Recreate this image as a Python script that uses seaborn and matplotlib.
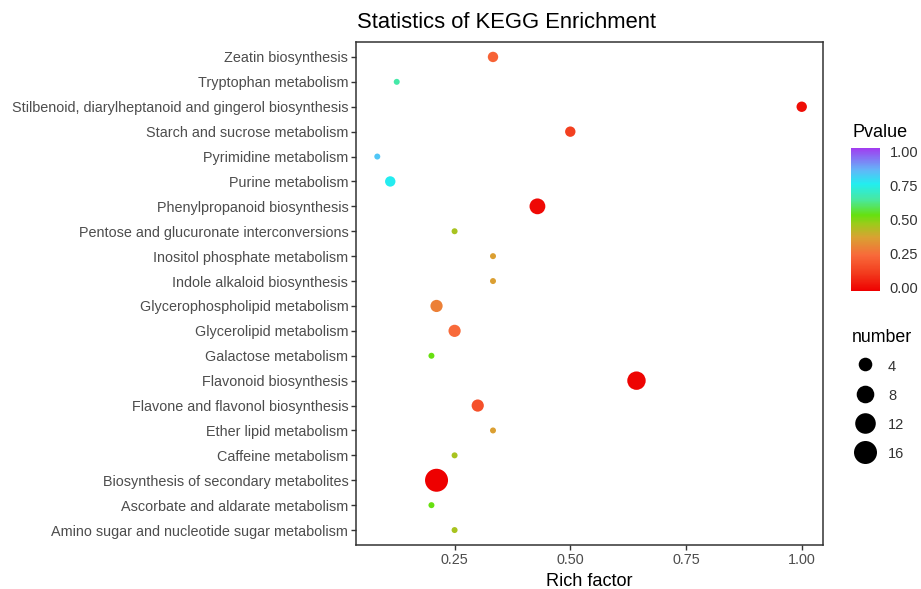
import numpy as np
import pandas as pd
import matplotlib
matplotlib.use("Agg")
import matplotlib.pyplot as plt
import seaborn as sns
from matplotlib.colors import LinearSegmentedColormap, Normalize
from matplotlib.cm import ScalarMappable
from matplotlib.lines import Line2D

# ---------------- data ----------------
pathways = [
    "Zeatin biosynthesis",
    "Tryptophan metabolism",
    "Stilbenoid, diarylheptanoid and gingerol biosynthesis",
    "Starch and sucrose metabolism",
    "Pyrimidine metabolism",
    "Purine metabolism",
    "Phenylpropanoid biosynthesis",
    "Pentose and glucuronate interconversions",
    "Inositol phosphate metabolism",
    "Indole alkaloid biosynthesis",
    "Glycerophospholipid metabolism",
    "Glycerolipid metabolism",
    "Galactose metabolism",
    "Flavonoid biosynthesis",
    "Flavone and flavonol biosynthesis",
    "Ether lipid metabolism",
    "Caffeine metabolism",
    "Biosynthesis of secondary metabolites",
    "Ascorbate and aldarate metabolism",
    "Amino sugar and nucleotide sugar metabolism",
]
rich_factor = [0.333, 0.125, 1.0, 0.5, 0.083, 0.111, 0.429, 0.25, 0.333, 0.333,
               0.211, 0.25, 0.2, 0.643, 0.3, 0.333, 0.25, 0.211, 0.2, 0.25]
number = [2, 1, 2, 2, 1, 2, 6, 1, 1, 1, 3, 3, 1, 9, 3, 1, 1, 16, 1, 1]
pvalue = [0.23, 0.65, 0.03, 0.14, 0.82, 0.75, 0.02, 0.45, 0.37, 0.37,
          0.30, 0.25, 0.53, 0.01, 0.18, 0.37, 0.45, 0.00, 0.53, 0.45]
x_ticks = [0.25, 0.50, 0.75, 1.00]
x_tick_labels = ["0.25", "0.50", "0.75", "1.00"]
p_ticks = [0.0, 0.25, 0.5, 0.75, 1.0]
p_tick_labels = ["0.00", "0.25", "0.50", "0.75", "1.00"]
size_breaks = [4, 8, 12, 16]

df = pd.DataFrame({"Pathway": pathways, "RichFactor": rich_factor,
                   "number": number, "Pvalue": pvalue})

# ---------------- style ----------------
sns.set_theme(style="white")
plt.rcParams["font.family"] = ["Liberation Sans", "DejaVu Sans"]

cmap = LinearSegmentedColormap.from_list("pv", [
    (0.00, "#EE0000"), (0.12, "#F23A1C"), (0.25, "#F86A3A"), (0.375, "#D9A232"),
    (0.47, "#9CCB1A"), (0.53, "#66E010"), (0.64, "#48E8A0"), (0.75, "#22EEF0"),
    (0.85, "#64B4F8"), (1.00, "#A13CF0")])

min_n, max_n = 1, 16
def marker_diam_px(n):
    return 6.0 + 17.0 * np.sqrt((n - min_n) / (max_n - min_n))

size_map = {n: (0.72 * marker_diam_px(n)) ** 2 for n in sorted(set(number))}

W, H = 921, 589
fig = plt.figure(figsize=(W / 100, H / 100), dpi=100)
ax = fig.add_axes([356 / W, 1 - 545 / H, (823 - 356) / W, (545 - 42) / H])

sns.scatterplot(data=df, x="RichFactor", y="Pathway", hue="Pvalue", size="number",
                palette=cmap, hue_norm=(0, 1), sizes=size_map, linewidth=0,
                legend=False, ax=ax, zorder=3)

n_cat = len(pathways)
ax.set_ylim(n_cat - 1 + 0.6, -0.6)
ax.set_xlim(0.037, 1.046)
ax.set_xticks(x_ticks)
ax.set_xticklabels(x_tick_labels)
ax.set_ylabel("")
ax.set_xlabel("Rich factor", fontsize=13.1, color="black", labelpad=4.5)
ax.tick_params(axis="both", which="both", length=3.5, width=1, color="#333333",
               labelsize=10.4, labelcolor="#4D4D4D", pad=2, left=True, bottom=True)
for s in ax.spines.values():
    s.set_color("#333333")
    s.set_linewidth(1.1)
ax.grid(False)

fig.text(357 / W, 1 - 28 / H, "Statistics of KEGG Enrichment", fontsize=15.8,
         color="black", ha="left", va="baseline")

# ---- Pvalue colour bar ----
fig.text(852 / W, 1 - 137 / H, "Pvalue", fontsize=13, color="black",
         ha="left", va="baseline")
cax = fig.add_axes([851 / W, 1 - 291 / H, 29 / W, 143 / H])
sm = ScalarMappable(norm=Normalize(vmin=-0.025, vmax=1.025), cmap=cmap)
cb = fig.colorbar(sm, cax=cax, ticks=p_ticks)
cb.ax.set_yticklabels(p_tick_labels)
cb.outline.set_visible(False)
cax.tick_params(axis="y", which="both", direction="in", length=5.5, width=1,
                color="white", left=True, right=True, labelleft=False,
                labelright=True, labelsize=10.5, labelcolor="#333333", pad=7)

# ---- size legend ----
fig.text(852 / W, 1 - 342 / H, "number", fontsize=12.8, color="black",
         ha="left", va="baseline")
handles = [Line2D([], [], marker="o", linestyle="", color="black",
                  markeredgewidth=0, markersize=0.72 * marker_diam_px(n))
           for n in size_breaks]
leg_fs = 10.5
fs_px = leg_fs * 100 / 72
leg = fig.legend(handles, [str(n) for n in size_breaks], loc="upper left",
                 bbox_to_anchor=((865 - fs_px) / W, 1 - (365 - 8.7 + 2) / H),
                 frameon=False, fontsize=leg_fs, borderpad=0, borderaxespad=0,
                 handlelength=2.0, handleheight=1.2,
                 labelspacing=0.95,
                 handletextpad=(888 - 865 - fs_px) / fs_px)
for t in leg.get_texts():
    t.set_color("#333333")

fig.savefig("out.png", dpi=100)
